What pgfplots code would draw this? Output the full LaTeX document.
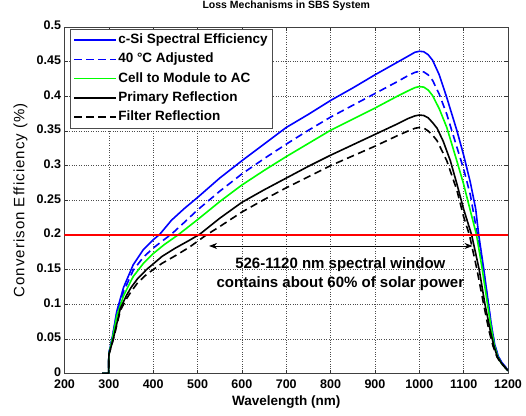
\documentclass[border=0pt]{standalone}
\usepackage{fontspec}
\setmainfont{Liberation Sans}
\usepackage{pgfplots}
\usepackage{pgfplotstable}
\pgfplotsset{compat=1.18}
\usetikzlibrary{arrows.meta}

% Conversion efficiency vs. wavelength (nm) for each loss stage
\pgfplotstableread{
wl eff
285 0
299.5 0
300 0.029
308 0.053
318 0.090
333 0.124
355 0.157
378 0.179
400 0.193
415 0.201
441 0.221
470 0.238
500 0.254
550 0.282
600 0.307
650 0.331
700 0.355
750 0.374
800 0.394
850 0.412
900 0.431
950 0.449
975 0.458
990 0.4635
1000 0.465
1010 0.4643
1020 0.460
1030 0.452
1045 0.431
1062 0.398
1085 0.350
1100 0.315
1115 0.276
1127 0.238
1134 0.200
1145 0.152
1155 0.105
1163 0.068
1170 0.042
1178 0.025
1186 0.016
1194 0.010
1200 0.004
}\csi

\pgfplotstableread{
wl eff
285 0
299.5 0
300 0.029
308 0.052
318 0.087
333 0.118
355 0.149
378 0.168
400 0.181
420 0.191
441 0.201
470 0.218
500 0.236
550 0.263
600 0.288
650 0.310
700 0.331
750 0.351
800 0.370
850 0.387
900 0.404
950 0.421
975 0.430
990 0.4345
1000 0.436
1010 0.4352
1020 0.431
1030 0.423
1045 0.403
1062 0.374
1085 0.326
1100 0.295
1115 0.258
1131 0.200
1145 0.148
1155 0.102
1163 0.066
1170 0.041
1178 0.024
1186 0.015
1194 0.009
1200 0.004
}\hot

\pgfplotstableread{
wl eff
285 0
299.5 0
300 0.028
308 0.050
318 0.083
333 0.112
355 0.140
378 0.159
400 0.173
425 0.186
456 0.200
500 0.222
550 0.248
600 0.272
650 0.293
700 0.313
750 0.332
800 0.351
850 0.367
900 0.383
950 0.400
975 0.408
990 0.4125
1000 0.414
1010 0.4133
1020 0.409
1030 0.401
1045 0.382
1062 0.355
1085 0.306
1100 0.273
1115 0.235
1129 0.200
1142 0.150
1153 0.103
1162 0.066
1169 0.041
1177 0.024
1185 0.015
1193 0.009
1200 0.004
}\module

\pgfplotstableread{
wl eff
285 0
299.5 0
300 0.027
310 0.050
326 0.094
340 0.113
350 0.124
365 0.137
385 0.150
420 0.169
450 0.181
481 0.192
505 0.201
550 0.224
600 0.247
650 0.265
700 0.282
750 0.299
800 0.315
850 0.330
900 0.345
950 0.360
975 0.368
990 0.3717
1000 0.373
1010 0.3723
1020 0.369
1030 0.362
1040 0.354
1054 0.335
1070 0.307
1085 0.273
1100 0.237
1118 0.200
1135 0.150
1148 0.100
1160 0.062
1168 0.040
1176 0.024
1185 0.015
1193 0.009
1200 0.004
}\primary

\pgfplotstableread{
wl eff
285 0
299.5 0
300 0.027
310 0.049
326 0.091
340 0.108
350 0.118
365 0.131
385 0.143
420 0.159
450 0.170
481 0.182
520 0.200
550 0.212
600 0.233
650 0.251
700 0.268
750 0.284
800 0.300
850 0.314
900 0.328
950 0.343
975 0.350
990 0.3538
1000 0.355
1010 0.3543
1020 0.350
1030 0.344
1040 0.336
1062 0.307
1085 0.264
1100 0.226
1113 0.200
1130 0.150
1145 0.100
1157 0.062
1166 0.040
1175 0.024
1184 0.015
1193 0.009
1200 0.004
}\filter

\begin{document}
\begin{tikzpicture}
\begin{axis}[
  scale only axis,
  width=443.5pt, height=346.5pt,
  xmin=200, xmax=1200, ymin=0, ymax=0.5,
  xtick={200,300,...,1200},
  xticklabels={200,300,400,500,600,700,800,900,1000,1100,1200},
  ytick={0,0.05,...,0.5},
  yticklabels={0,0.05,0.1,0.15,0.2,0.25,0.3,0.35,0.4,0.45,0.5},
  tick align=inside,
  major tick length=4pt,
  tick style={black!80, line width=0.5pt},
  axis line style={black!75, line width=0.6pt},
  grid=major,
  major grid style={black!70, dotted, line width=0.6pt},
  ticklabel style={font=\bfseries\fontsize{12.5}{14}\selectfont},
  xticklabel style={yshift=-2.5pt},
  yticklabel style={yshift=1.5pt},
  title={Loss Mechanisms in SBS System},
  title style={font=\bfseries\fontsize{10.5}{12}\selectfont, at={(axis description cs:0.5,1.043)}, anchor=center},
  xlabel={Wavelength (nm)},
  xlabel style={font=\bfseries\fontsize{13.5}{15}\selectfont, at={(axis description cs:0.5,-0.083)}, anchor=center},
  ylabel={Converison Efficiency (\%)},
  ylabel style={font=\fontsize{15}{17}\selectfont\addfontfeatures{LetterSpace=7}, at={(axis description cs:-0.099,0.5)}, anchor=center, rotate=0},
  legend cell align=left,
  legend image code/.code={\draw[#1, line width=1.6pt] (0pt,0pt) -- (42pt,0pt);},
  legend style={
    at={(0.0124,0.994)}, anchor=north west,
    draw=black!70, fill=white,
    font=\bfseries\fontsize{13.5}{15}\selectfont,
    inner xsep=3pt, inner ysep=3pt,
    row sep=3.2pt,
    nodes={inner sep=1.5pt, text height=10pt, text depth=3pt},
    /tikz/every even column/.append style={column sep=2.5pt},
  },
]
\addplot[blue, line width=1.6pt] table[x=wl, y=eff] {\csi};
\addlegendentry{c-Si Spectral Efficiency}
\addplot[blue, line width=1.6pt, dash pattern=on 7.5pt off 4.5pt] table[x=wl, y=eff] {\hot};
\addlegendentry{40 °C Adjusted}
\addplot[green, line width=1.6pt] table[x=wl, y=eff] {\module};
\addlegendentry{Cell to Module to AC}
\addplot[black, line width=1.6pt] table[x=wl, y=eff] {\primary};
\addlegendentry{Primary Reflection}
\addplot[black, line width=1.6pt, dash pattern=on 7.5pt off 4.5pt] table[x=wl, y=eff] {\filter};
\addlegendentry{Filter Reflection}
% 20% reference level
\addplot[red, line width=1.6pt, forget plot] coordinates {(200,0.2) (1200,0.2)};
% spectral window annotation
\draw[{Stealth[length=8pt,width=6pt]}-{Stealth[length=8pt,width=6pt]}, line width=0.7pt]
  (axis cs:526,0.184) -- (axis cs:1120,0.184);
\node[align=center, font=\bfseries\fontsize{15}{19}\selectfont]
  at (axis cs:822,0.144) {526-1120 nm spectral window\\contains about 60\% of solar power};
\end{axis}
\pgfresetboundingbox
\path ([xshift=-64.5pt,yshift=-41.5pt]current axis.south west)
  rectangle ([xshift=18pt,yshift=27pt]current axis.north east);
\end{tikzpicture}
\end{document}
